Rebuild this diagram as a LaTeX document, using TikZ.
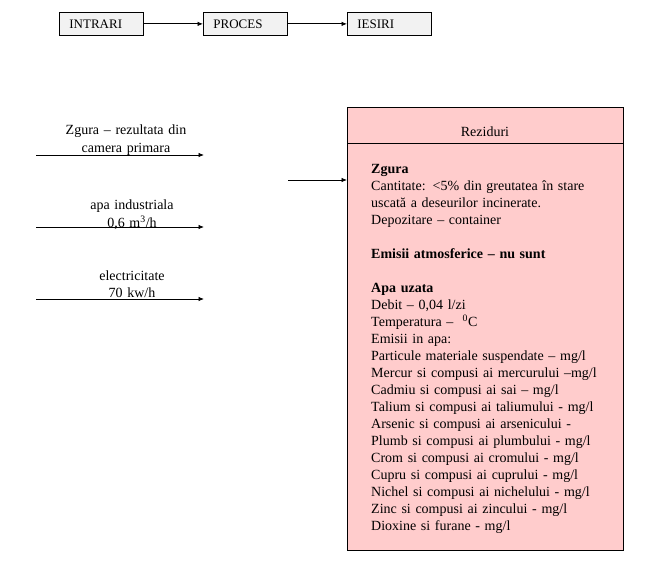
\documentclass[tikz,border=0pt]{standalone}
\usepackage{fontspec}
\setmainfont{Liberation Serif}
\usetikzlibrary{arrows.meta}
\definecolor{boxgray}{HTML}{F2F2F2}
\definecolor{rezpink}{HTML}{FFCCCC}
\tikzset{
  arr/.style={-{Latex[length=5.5pt,width=4.5pt]}, line width=0.8pt},
  topbox/.style={draw, fill=boxgray, anchor=north west, minimum width=84pt, minimum height=23pt,
    inner xsep=10pt, text width=64pt, align=left, line width=0.8pt, font=\fontsize{13}{15}\selectfont},
  inlbl/.style={anchor=base, text width=160pt, align=center, inner sep=0pt, font=\fontsize{14}{17.5}\selectfont},
}
\begin{document}
\begin{tikzpicture}[x=1pt,y=1pt]
    \useasboundingbox (0,0) rectangle (648,-564);
    % flux
    \node[topbox] (intrari) at (59,-12) {INTRARI};
    \node[topbox] (proces) at (203,-12) {PROCES};
    \node[topbox] (iesiri) at (347,-12) {IESIRI};
    \draw[arr] (intrari) -- (proces);
    \draw[arr] (proces) -- (iesiri);
    % intrari
    \node[inlbl] (zgura) at (126,-135) {Zgura – rezultata din\\camera primara};
    \node[inlbl] (apa) at (132,-210) {apa industriala\\0,6 m\textsuperscript{3}/h};
    \node[inlbl] (elec) at (132,-280) {electricitate\\70 kw/h};
    \coordinate (z1) at (36,-155); \coordinate (z2) at (204,-155);
    \coordinate (a1) at (36,-227); \coordinate (a2) at (204,-227);
    \coordinate (e1) at (36,-299); \coordinate (e2) at (204,-299);
    \draw[arr] (z1) -- (z2);
    \draw[arr] (a1) -- (a2);
    \draw[arr] (e1) -- (e2);
    % reziduri
    \node[draw, fill=rezpink, anchor=north west, minimum width=276pt, minimum height=443pt, line width=0.8pt] (rez) at (347,-107) {};
    \draw[line width=0.8pt] ([yshift=-36pt]rez.north west) -- ([yshift=-36pt]rez.north east);
    \node[anchor=base, font=\fontsize{14}{17}\selectfont] (reztitlu) at (485,-137) {Reziduri};
    \node[anchor=base west, text width=250pt, align=left, inner sep=0pt, font=\fontsize{14}{17}\selectfont] (rezlista) at (371,-174) {%
        \textbf{Zgura}\\
        \makebox[226pt][s]{Cantitate: <5\% din greutatea în stare}\\
        uscată a deseurilor incinerate.\\
        Depozitare – container\\[17pt]
        \textbf{Emisii atmosferice – nu sunt}\\[17pt]
        \textbf{Apa uzata}\\
        Debit – 0,04 l/zi\\
        Temperatura – \ \textsuperscript{0}C\\
        Emisii in apa:\\
        Particule materiale suspendate – mg/l\\
        Mercur si compusi ai mercurului –mg/l\\
        Cadmiu si compusi ai sai – mg/l\\
        Talium si compusi ai taliumului - mg/l\\
        Arsenic si compusi ai arsenicului -\\
        Plumb si compusi ai plumbului - mg/l\\
        Crom si compusi ai cromului - mg/l\\
        Cupru si compusi ai cuprului - mg/l\\
        Nichel si compusi ai nichelului - mg/l\\
        Zinc si compusi ai zincului - mg/l\\
        Dioxine si furane - mg/l};
    \coordinate (z3) at (288,-180);
    \draw[arr] (z3) -- (z3 -| rez.west);
\end{tikzpicture}
\end{document}
